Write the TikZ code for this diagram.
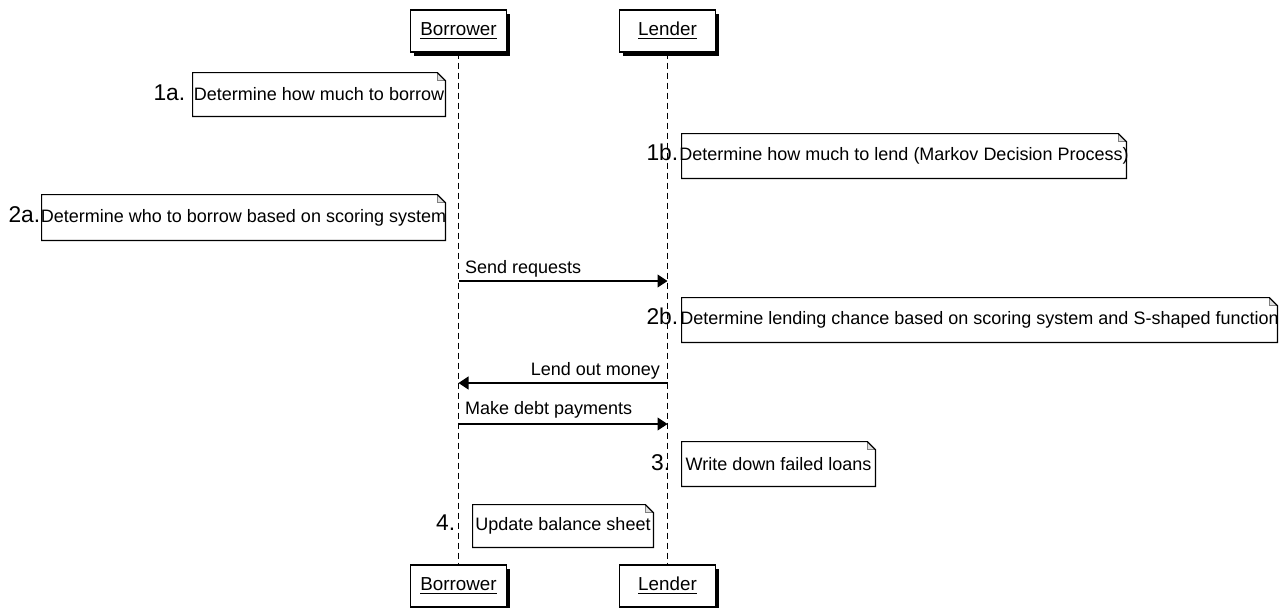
\documentclass[tikz,border=0pt]{standalone}
\usepackage{fontspec}
\setmainfont{Liberation Sans}
\usetikzlibrary{positioning,shadows,arrows.meta}

\tikzset{
  actor/.style={draw, line width=.7pt, fill=white, minimum width=48pt, minimum height=21pt,
    inner sep=0pt, font=\fontsize{9.4}{10}\selectfont,
    drop shadow={shadow xshift=1.8pt, shadow yshift=-1.8pt, opacity=1, fill=black}},
  note/.style={inner sep=0pt, font=\fontsize{9}{10}\selectfont},
  numlbl/.style={inner sep=0pt, font=\fontsize{11.4}{12}\selectfont},
  msg/.style={-{Triangle[length=5pt,width=6.5pt]}, line width=.55pt},
  msglbl/.style={inner sep=0pt, font=\fontsize{9}{10}\selectfont},
  life/.style={dash pattern=on 3pt off 2pt, line width=.55pt}
}

\begin{document}
\begin{tikzpicture}[x=.5pt, y=-.5pt]
        \useasboundingbox (0,0) rectangle (1285,607);
        % actors
        \node[actor] (bt) at (458.5,31) {\underline{Borrower}};
        \node[actor] (lt) at (667.5,31) {\underline{Lender}};
        \node[actor] (bb) at (458.5,586) {\underline{Borrower}};
        \node[actor] (lb) at (667.5,586) {\underline{Lender}};
        \draw[life] (bt) -- (bb);
        \draw[life] (lt) -- (lb);
        % notes
        \node[note, minimum width=126pt, minimum height=21.5pt] (n1a) at (319,94.5) {Determine how much to borrow};
        \node[note, minimum width=222pt, minimum height=22pt] (n1b) at (904,156) {\makebox[0pt]{Determine how much to lend (Markov Decision Process)}};
        \node[note, minimum width=201.5pt, minimum height=22.5pt] (n2a) at (243.5,217.5) {\makebox[0pt]{Determine who to borrow based on scoring system}};
        \node[note, minimum width=297.5pt, minimum height=22pt] (n2b) at (979.5,320) {\makebox[0pt]{Determine lending chance based on scoring system and S-shaped function}};
        \node[note, minimum width=96.5pt, minimum height=22pt] (n3) at (778.5,464) {Write down failed loans};
        \node[note, minimum width=90pt, minimum height=21pt] (n4) at (563,526) {Update balance sheet};
        \foreach \n in {n1a,n1b,n2a,n2b,n3,n4}
        {
                \fill[gray!25] ([xshift=-4pt]\n.north east) -- ([yshift=-4pt]\n.north east)
                        -- ([xshift=-4pt,yshift=-4pt]\n.north east) -- cycle;
                \draw[gray, line width=.4pt] ([xshift=-4pt]\n.north east) |- ([yshift=-4pt]\n.north east);
                \draw[line width=.6pt] (\n.north west) -- ([xshift=-4pt]\n.north east)
                        -- ([yshift=-4pt]\n.north east) -- (\n.south east) -- (\n.south west) -- cycle;
        }
        \node[numlbl, left=3.5pt of n1a.base west, anchor=base east] (l1a) {1a.};
        \node[numlbl, left=1.5pt of n1b.base west, anchor=base east] (l1b) {1b.};
        \node[numlbl, left=.5pt of n2a.base west, anchor=base east] (l2a) {2a.};
        \node[numlbl, left=1.5pt of n2b.base west, anchor=base east] (l2b) {2b.};
        \node[numlbl, left=5.5pt of n3.base west, anchor=base east] (l3) {3.};
        \node[numlbl, left=8.5pt of n4.base west, anchor=base east] (l4) {4.};
        % messages
        \coordinate (bs) at (bt |- 0,281);
        \coordinate (ls) at (lt |- 0,281);
        \coordinate (bm) at (bt |- 0,383);
        \coordinate (lm) at (lt |- 0,383);
        \coordinate (bp) at (bt |- 0,424);
        \coordinate (lp) at (lt |- 0,424);
        \draw[msg] (bs) -- node[msglbl, pos=0, anchor=base west, xshift=3pt, yshift=4pt] (m1) {Send requests} (ls);
        \draw[msg] (lm) -- node[msglbl, pos=0, anchor=base east, xshift=-3.5pt, yshift=4pt] (m2) {Lend out money} (bm);
        \draw[msg] (bp) -- node[msglbl, pos=0, anchor=base west, xshift=3pt, yshift=5pt] (m3) {Make debt payments} (lp);
\end{tikzpicture}
\end{document}
